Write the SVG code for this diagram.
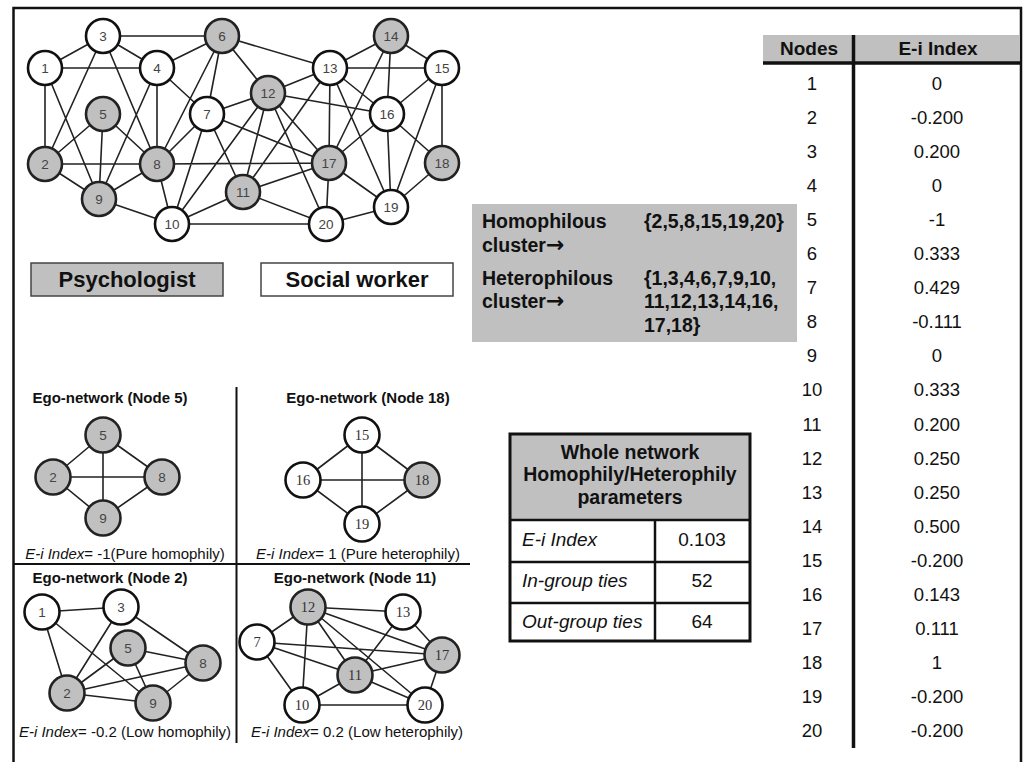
<svg xmlns="http://www.w3.org/2000/svg" width="1024" height="762" viewBox="0 0 1024 762">
<style>
.e{stroke:#222;stroke-width:1.6;fill:none}
.nw{fill:#fff;stroke:#111;stroke-width:2.6}
.ng{fill:#c0c0c0;stroke:#222;stroke-width:2.6}
.nt{font-family:"Liberation Sans",Arial,sans-serif;font-size:13.5px;fill:#444;text-anchor:middle;dominant-baseline:central}
.ns{font-family:"Liberation Serif","Times New Roman",serif;font-size:14.5px;fill:#333;text-anchor:middle;dominant-baseline:central}
.b{font-family:"Liberation Sans",Arial,sans-serif;font-weight:bold;fill:#111}
.r{font-family:"Liberation Sans",Arial,sans-serif;fill:#111}
.c{text-anchor:middle}
.it{font-style:italic}
.ln{stroke:#111;fill:none}
.ar{font-family:"DejaVu Sans",sans-serif;font-weight:bold}
</style>
<rect x="0" y="0" width="1024" height="762" fill="#fff"/>
<rect x="13.5" y="8" width="1007.5" height="780" fill="none" stroke="#111" stroke-width="2.5"/>

<!-- Main network -->
<g id="connectors">
<path class="e" d="M103,36L222,36M45,68L103,36M103,36L157,68M45,68L157,68M103,36L45,164M103,36L157,164M45,68L45,164M45,68L99,199M157,68L222,36M157,68L157,164M157,68L99,199M157,68L207,114M103,114L45,164M103,114L99,199M103,114L157,164M45,164L157,164M157,164L329,163M45,164L99,199M157,164L99,199M222,36L157,164M222,36L207,114M222,36L268,93M222,36L330,68M207,114L157,164M207,114L172,224M207,114L243,192M207,114L268,93M207,114L329,163M157,164L172,224M99,199L172,224M172,224L243,192M172,224L326,224M172,224L268,93M243,192L268,93M243,192L330,68M243,192L329,163M243,192L326,224M268,93L330,68M268,93L387,114M268,93L329,163M268,93L326,224M330,68L391,36M330,68L442,68M330,68L387,114M330,68L329,163M330,68L391,207M391,36L442,68M391,36L387,114M391,36L329,163M442,68L387,114M442,68L442,163M442,68L391,207M387,114L329,163M387,114L442,163M387,114L391,207M329,163L326,224M329,163L391,207M442,163L391,207M391,207L326,224"/>
</g>
<g id="node-1"><circle class="nw" cx="45" cy="68" r="17"/><text class="nt" x="45" y="68">1</text></g>
<g id="node-2"><circle class="ng" cx="45" cy="164" r="17"/><text class="nt" x="45" y="164">2</text></g>
<g id="node-3"><circle class="nw" cx="103" cy="36" r="17"/><text class="nt" x="103" y="36">3</text></g>
<g id="node-4"><circle class="nw" cx="157" cy="68" r="17"/><text class="nt" x="157" y="68">4</text></g>
<g id="node-5"><circle class="ng" cx="103" cy="114" r="17"/><text class="nt" x="103" y="114">5</text></g>
<g id="node-6"><circle class="ng" cx="222" cy="36" r="17"/><text class="nt" x="222" y="36">6</text></g>
<g id="node-7"><circle class="nw" cx="207" cy="114" r="17"/><text class="nt" x="207" y="114">7</text></g>
<g id="node-8"><circle class="ng" cx="157" cy="164" r="17"/><text class="nt" x="157" y="164">8</text></g>
<g id="node-9"><circle class="ng" cx="99" cy="199" r="17"/><text class="nt" x="99" y="199">9</text></g>
<g id="node-10"><circle class="nw" cx="172" cy="224" r="17"/><text class="nt" x="172" y="224">10</text></g>
<g id="node-11"><circle class="ng" cx="243" cy="192" r="17"/><text class="nt" x="243" y="192">11</text></g>
<g id="node-12"><circle class="ng" cx="268" cy="93" r="17"/><text class="nt" x="268" y="93">12</text></g>
<g id="node-13"><circle class="nw" cx="330" cy="68" r="17"/><text class="nt" x="330" y="68">13</text></g>
<g id="node-14"><circle class="ng" cx="391" cy="36" r="17"/><text class="nt" x="391" y="36">14</text></g>
<g id="node-15"><circle class="nw" cx="442" cy="68" r="17"/><text class="nt" x="442" y="68">15</text></g>
<g id="node-16"><circle class="nw" cx="387" cy="114" r="17"/><text class="nt" x="387" y="114">16</text></g>
<g id="node-17"><circle class="ng" cx="329" cy="163" r="17"/><text class="nt" x="329" y="163">17</text></g>
<g id="node-18"><circle class="ng" cx="442" cy="163" r="17"/><text class="nt" x="442" y="163">18</text></g>
<g id="node-19"><circle class="nw" cx="391" cy="207" r="17"/><text class="nt" x="391" y="207">19</text></g>
<g id="node-20"><circle class="nw" cx="326" cy="224" r="17"/><text class="nt" x="326" y="224">20</text></g>

<!-- Legend -->
<g id="legend-psychologist"><rect x="31" y="263" width="192" height="33" fill="#c0c0c0" stroke="#444" stroke-width="1.5"/><text class="b c" x="127" y="287" font-size="22">Psychologist</text></g>
<g id="legend-social"><rect x="261" y="263" width="192" height="33" fill="#fff" stroke="#444" stroke-width="1.5"/><text class="b c" x="357" y="287" font-size="22">Social worker</text></g>

<!-- Cluster box -->
<g id="clusters">
<rect x="472" y="204" width="325" height="138" fill="#c0c0c0"/>
<g class="b" font-size="19.5">
<text x="482" y="228">Homophilous</text>
<text x="482" y="252">cluster<tspan class="ar" font-size="22">→</tspan></text>
<text x="482" y="285">Heterophilous</text>
<text x="482" y="308">cluster<tspan class="ar" font-size="22">→</tspan></text>
<text x="644" y="228">{2,5,8,15,19,20}</text>
<text x="644" y="285">{1,3,4,6,7,9,10,</text>
<text x="644" y="308">11,12,13,14,16,</text>
<text x="644" y="332">17,18}</text>
</g>
</g>

<!-- Ego panel dividers -->
<g id="ego-dividers">
<line class="ln" x1="236.5" y1="387" x2="236.5" y2="743" stroke-width="2"/>
<line class="ln" x1="13" y1="564" x2="470" y2="564" stroke-width="2"/>
</g>

<!-- Ego 5 -->
<g id="ego-5">
<text class="b c" x="110" y="403" font-size="15">Ego-network (Node 5)</text>
<path class="e" d="M103,435L53,477M103,435L162,477M103,435L103,518M53,477L162,477M53,477L103,518M162,477L103,518"/>
<circle class="ng" cx="103" cy="435" r="17.5"/><text class="nt" x="103" y="435">5</text>
<circle class="ng" cx="53" cy="477" r="17.5"/><text class="nt" x="53" y="477">2</text>
<circle class="ng" cx="162" cy="477" r="17.5"/><text class="nt" x="162" y="477">8</text>
<circle class="ng" cx="103" cy="518" r="17.5"/><text class="nt" x="103" y="518">9</text>
<text class="r c" x="125" y="559" font-size="15"><tspan class="it">E-i Index</tspan>= -1(Pure homophily)</text>
</g>

<!-- Ego 18 -->
<g id="ego-18">
<text class="b c" x="368" y="403" font-size="15">Ego-network (Node 18)</text>
<path class="e" d="M362,435L303,480M362,435L422,480M362,435L362,524M303,480L422,480M303,480L362,524M422,480L362,524"/>
<circle class="nw" cx="362" cy="435" r="17.5"/><text class="ns" x="362" y="435">15</text>
<circle class="nw" cx="303" cy="480" r="17.5"/><text class="ns" x="303" y="480">16</text>
<circle class="ng" cx="422" cy="480" r="17.5"/><text class="ns" x="422" y="480">18</text>
<circle class="nw" cx="362" cy="524" r="17.5"/><text class="ns" x="362" y="524">19</text>
<text class="r c" x="358" y="559" font-size="15"><tspan class="it">E-i Index</tspan>= 1 (Pure heterophily)</text>
</g>

<!-- Ego 2 -->
<g id="ego-2">
<text class="b c" x="110" y="583" font-size="15">Ego-network (Node 2)</text>
<path class="e" d="M42,612L121,607M42,612L67,693M42,612L153,703M121,607L67,693M121,607L203,663M128,648L67,693M128,648L203,663M128,648L153,703M67,693L203,663M67,693L153,703M203,663L153,703"/>
<circle class="nw" cx="42" cy="612" r="17.5"/><text class="nt" x="42" y="612">1</text>
<circle class="nw" cx="121" cy="607" r="17.5"/><text class="nt" x="121" y="607">3</text>
<circle class="ng" cx="128" cy="648" r="17.5"/><text class="nt" x="128" y="648">5</text>
<circle class="ng" cx="203" cy="663" r="17.5"/><text class="nt" x="203" y="663">8</text>
<circle class="ng" cx="67" cy="693" r="17.5"/><text class="nt" x="67" y="693">2</text>
<circle class="ng" cx="153" cy="703" r="17.5"/><text class="nt" x="153" y="703">9</text>
<text class="r c" x="125" y="737" font-size="15"><tspan class="it">E-i Index</tspan>= -0.2 (Low homophily)</text>
</g>

<!-- Ego 11 -->
<g id="ego-11">
<text class="b c" x="355" y="583" font-size="15">Ego-network (Node 11)</text>
<path class="e" d="M308,607L403,612M308,607L257,642M308,607L442,655M308,607L355,675M308,607L425,705M308,607L302,705M257,642L442,655M257,642L355,675M257,642L302,705M403,612L355,675M403,612L442,655M355,675L442,655M355,675L302,705M355,675L425,705M302,705L425,705M442,655L425,705"/>
<circle class="ng" cx="308" cy="607" r="17.5"/><text class="ns" x="308" y="607">12</text>
<circle class="nw" cx="403" cy="612" r="17.5"/><text class="ns" x="403" y="612">13</text>
<circle class="nw" cx="257" cy="642" r="17.5"/><text class="ns" x="257" y="642">7</text>
<circle class="ng" cx="442" cy="655" r="17.5"/><text class="ns" x="442" y="655">17</text>
<circle class="ng" cx="355" cy="675" r="17.5"/><text class="ns" x="355" y="675">11</text>
<circle class="nw" cx="302" cy="705" r="17.5"/><text class="ns" x="302" y="705">10</text>
<circle class="nw" cx="425" cy="705" r="17.5"/><text class="ns" x="425" y="705">20</text>
<text class="r c" x="357" y="737" font-size="15"><tspan class="it">E-i Index</tspan>= 0.2 (Low heterophily)</text>
</g>

<!-- Whole network table -->
<g id="whole-network-table">
<rect x="510" y="434" width="240" height="86" fill="#c0c0c0"/>
<g class="b c" font-size="19.5">
<text x="630" y="459">Whole network</text>
<text x="630" y="481">Homophily/Heterophily</text>
<text x="630" y="504">parameters</text>
</g>
<line class="ln" x1="510" y1="520" x2="750" y2="520" stroke-width="2.5"/>
<line class="ln" x1="510" y1="562" x2="750" y2="562" stroke-width="2.5"/>
<line class="ln" x1="510" y1="603" x2="750" y2="603" stroke-width="2.5"/>
<line class="ln" x1="655" y1="520" x2="655" y2="641" stroke-width="2.5"/>
<rect x="510" y="434" width="240" height="207" fill="none" stroke="#111" stroke-width="3"/>
<g class="r" font-size="19">
<text class="it" x="522" y="546">E-i Index</text>
<text class="it" x="522" y="587">In-group ties</text>
<text class="it" x="522" y="628">Out-group ties</text>
<text class="c" x="702" y="546">0.103</text>
<text class="c" x="702" y="587">52</text>
<text class="c" x="702" y="628">64</text>
</g>
</g>

<!-- Node E-i index table -->
<g id="ei-table">
<rect x="763" y="35" width="257" height="27" fill="#c0c0c0"/>
<text class="b c" x="809" y="55" font-size="19">Nodes</text>
<text class="b c" x="938" y="55" font-size="19">E-i Index</text>
<line class="ln" x1="763" y1="63" x2="1020" y2="63" stroke-width="3.5"/>
<line class="ln" x1="853.5" y1="35" x2="853.5" y2="748" stroke-width="3.5"/>
<g class="r c" font-size="18.5">
<text x="812" y="90">1</text><text x="937" y="90">0</text>
<text x="812" y="124">2</text><text x="937" y="124">-0.200</text>
<text x="812" y="158">3</text><text x="937" y="158">0.200</text>
<text x="812" y="192">4</text><text x="937" y="192">0</text>
<text x="812" y="226">5</text><text x="937" y="226">-1</text>
<text x="812" y="260">6</text><text x="937" y="260">0.333</text>
<text x="812" y="294">7</text><text x="937" y="294">0.429</text>
<text x="812" y="328">8</text><text x="937" y="328">-0.111</text>
<text x="812" y="362">9</text><text x="937" y="362">0</text>
<text x="812" y="396">10</text><text x="937" y="396">0.333</text>
<text x="812" y="431">11</text><text x="937" y="431">0.200</text>
<text x="812" y="465">12</text><text x="937" y="465">0.250</text>
<text x="812" y="499">13</text><text x="937" y="499">0.250</text>
<text x="812" y="533">14</text><text x="937" y="533">0.500</text>
<text x="812" y="567">15</text><text x="937" y="567">-0.200</text>
<text x="812" y="601">16</text><text x="937" y="601">0.143</text>
<text x="812" y="635">17</text><text x="937" y="635">0.111</text>
<text x="812" y="669">18</text><text x="937" y="669">1</text>
<text x="812" y="703">19</text><text x="937" y="703">-0.200</text>
<text x="812" y="737">20</text><text x="937" y="737">-0.200</text>
</g>
</g>
</svg>
